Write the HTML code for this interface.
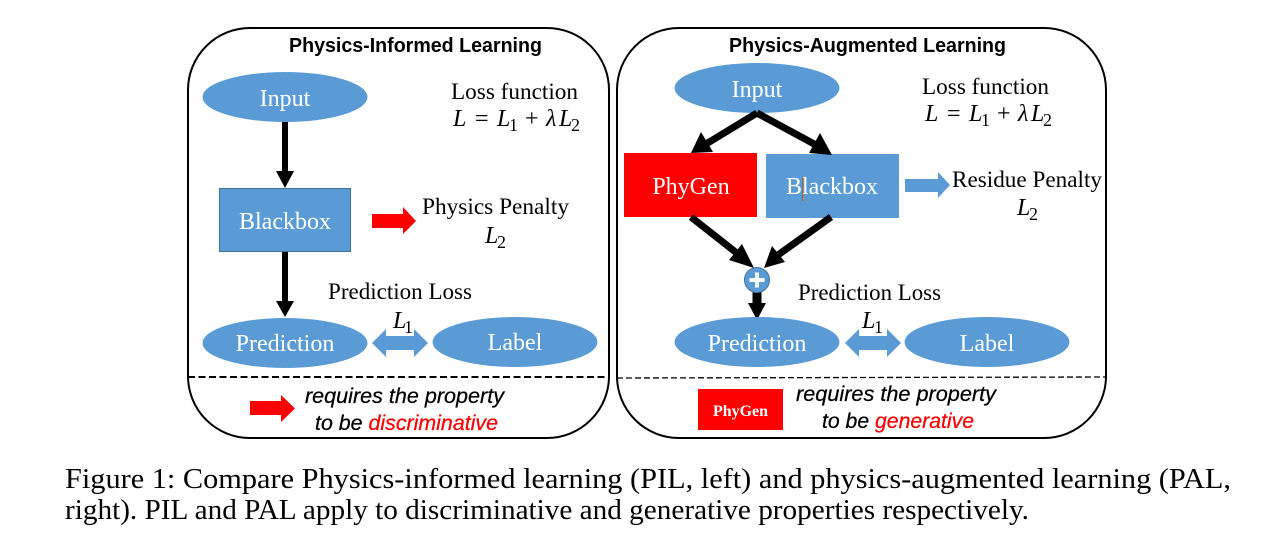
<!DOCTYPE html>
<html><head><meta charset="utf-8"><style>
html,body{margin:0;padding:0;background:#fff;width:1275px;height:545px;overflow:hidden}
svg{display:block}
.s{font-family:"Liberation Serif",serif}
.w{fill:#fff;font-size:24px;text-anchor:middle}
.b{fill:#000;font-size:23px}
.m{font-size:24px;font-style:italic;fill:#000}
.n{font-size:24px;fill:#000}
.sb{font-size:18px;fill:#000}
.t{font-family:"Liberation Sans",sans-serif;font-weight:bold;font-size:20px;fill:#000}
.i{font-family:"Liberation Sans",sans-serif;font-style:italic;font-size:21px;fill:#000;stroke:#000;stroke-width:.25}
.r{fill:#f00;stroke:#f00}
.c{font-size:28.5px;fill:#000}
</style></head><body>
<svg width="1275" height="545" viewBox="0 0 1275 545" xmlns="http://www.w3.org/2000/svg">
<rect width="1275" height="545" fill="#fff"/>
<rect x="188" y="28" width="421" height="410" rx="62" fill="#fff" stroke="#000" stroke-width="2"/>
<rect x="617" y="28" width="489" height="410" rx="62" fill="#fff" stroke="#000" stroke-width="2"/>
<line x1="188" y1="377" x2="609" y2="377" stroke="#000" stroke-width="2" stroke-dasharray="7 3.500"/>
<line x1="617" y1="378" x2="1106" y2="377" stroke="#000" stroke-width="1.300" stroke-dasharray="6 3"/>

<text class="t" x="289" y="52" textLength="253" lengthAdjust="spacingAndGlyphs">Physics-Informed Learning</text>
<text class="t" x="729" y="52" textLength="277" lengthAdjust="spacingAndGlyphs">Physics-Augmented Learning</text>

<!-- left -->
<ellipse cx="285" cy="97" rx="82.500" ry="25" fill="#5b9bd5"/>
<text class="s w" x="285" y="106">Input</text>
<polygon points="282,122 288,122 288,171 294,171 285,188 276,171 282,171" fill="#000"/>
<rect x="219.500" y="188.500" width="131" height="63" fill="#5b9bd5" stroke="#41719c"/>
<text class="s w" x="285" y="229">Blackbox</text>
<polygon points="282,252 288,252 288,301 294,301 285,317 276,301 282,301" fill="#000"/>
<polygon points="372,214 403,214 403,207 416,221 403,234 403,228 372,228" fill="#f00"/>
<text class="s b" x="422" y="214" textLength="147" lengthAdjust="spacingAndGlyphs">Physics Penalty</text>
<text class="s m" x="485" y="243">L</text><text class="s sb" x="497" y="248">2</text>
<text class="s b" x="451" y="99" textLength="127" lengthAdjust="spacingAndGlyphs">Loss function</text>
<text class="s m" x="453" y="126">L</text><text class="s n" x="475" y="126">=</text><text class="s m" x="497" y="126">L</text><text class="s sb" x="509" y="131">1</text><text class="s n" x="525" y="126">+</text><text class="s m" x="546" y="126">λ</text><text class="s m" x="559" y="126">L</text><text class="s sb" x="571" y="131">2</text>

<ellipse cx="285" cy="343" rx="82.500" ry="25" fill="#5b9bd5"/>
<text class="s w" x="285" y="351">Prediction</text>
<ellipse cx="515" cy="342" rx="82.500" ry="25" fill="#5b9bd5"/>
<text class="s w" x="515" y="350">Label</text>
<polygon points="372,343 386,329 386,336 414,336 414,329 428,343 414,357 414,350 386,350 386,357" fill="#5b9bd5"/>
<text class="s b" x="328" y="299" textLength="144" lengthAdjust="spacingAndGlyphs">Prediction Loss</text>
<text class="s m" x="393" y="328">L</text><text class="s sb" x="404" y="333">1</text>

<polygon points="250,401 281,401 281,395 295,408.500 281,422 281,415 250,415" fill="#f00"/>
<text class="i" x="305" y="403" textLength="199" lengthAdjust="spacingAndGlyphs">requires the property</text>
<text class="i" x="315" y="430" textLength="183" lengthAdjust="spacingAndGlyphs">to be <tspan class="r">discriminative</tspan></text>

<!-- right -->
<ellipse cx="757" cy="88" rx="82.500" ry="25" fill="#5b9bd5"/>
<text class="s w" x="757" y="97">Input</text>
<rect x="624" y="153" width="133" height="64" fill="#f00"/>
<text class="s w" x="691" y="194">PhyGen</text>
<rect x="766" y="154" width="133" height="64" fill="#5b9bd5"/>
<text class="s w" x="832" y="194">Blackbox</text>
<line x1="802.500" y1="177" x2="802.500" y2="201" stroke="#c55a11" stroke-width="1"/>

<g stroke="#000" stroke-width="7" fill="none">
<line x1="757" y1="113" x2="706" y2="144"/>
<line x1="757" y1="113" x2="816" y2="145"/>
<line x1="691" y1="217" x2="738" y2="254"/>
<line x1="831" y1="217" x2="778" y2="255"/>
</g>
<polygon points="691,153 701,132 713,152" fill="#000"/>
<polygon points="832,155 809,153 820,133" fill="#000"/>
<polygon points="754,268 729,260 742,244" fill="#000"/>
<polygon points="764,268 772,246 785,262" fill="#000"/>

<polygon points="752.500,292 761.500,292 761.500,303 766,303 757,320 748,303 752.500,303" fill="#000"/>
<circle cx="757" cy="280" r="12.500" fill="#5b9bd5" stroke="#41719c" stroke-width="1"/>
<rect x="749.500" y="278" width="15" height="4" fill="#fff"/>
<rect x="755" y="272.500" width="4" height="15" fill="#fff"/>

<polygon points="905,179 938,179 938,172 950,185 938,198 938,192 905,192" fill="#5b9bd5"/>
<text class="s b" x="952" y="187" textLength="150" lengthAdjust="spacingAndGlyphs">Residue Penalty</text>
<text class="s m" x="1017" y="215">L</text><text class="s sb" x="1029" y="220">2</text>
<text class="s b" x="922" y="94" textLength="127" lengthAdjust="spacingAndGlyphs">Loss function</text>
<text class="s m" x="925" y="121">L</text><text class="s n" x="947" y="121">=</text><text class="s m" x="969" y="121">L</text><text class="s sb" x="981" y="126">1</text><text class="s n" x="997" y="121">+</text><text class="s m" x="1018" y="121">λ</text><text class="s m" x="1031" y="121">L</text><text class="s sb" x="1043" y="126">2</text>

<ellipse cx="757" cy="342" rx="82.500" ry="25" fill="#5b9bd5"/>
<text class="s w" x="757" y="351">Prediction</text>
<ellipse cx="987" cy="342" rx="82.500" ry="25" fill="#5b9bd5"/>
<text class="s w" x="987" y="351">Label</text>
<polygon points="845,343 859,329 859,336 887,336 887,329 901,343 887,357 887,350 859,350 859,357" fill="#5b9bd5"/>
<text class="s b" x="798" y="300" textLength="143" lengthAdjust="spacingAndGlyphs">Prediction Loss</text>
<text class="s m" x="862" y="328">L</text><text class="s sb" x="874" y="333">1</text>

<rect x="698" y="389" width="85" height="41" fill="#f00"/>
<text class="s" x="740.500" y="416" font-size="16" font-weight="bold" fill="#fff" text-anchor="middle">PhyGen</text>
<text class="i" x="796" y="401" textLength="200" lengthAdjust="spacingAndGlyphs">requires the property</text>
<text class="i" x="822" y="428" textLength="152" lengthAdjust="spacingAndGlyphs">to be <tspan class="r">generative</tspan></text>

<!-- caption -->
<text class="s c" x="65" y="488" textLength="1166" lengthAdjust="spacingAndGlyphs">Figure 1: Compare Physics-informed learning (PIL, left) and physics-augmented learning (PAL,</text>
<text class="s c" x="65" y="519" textLength="964" lengthAdjust="spacingAndGlyphs">right). PIL and PAL apply to discriminative and generative properties respectively.</text>
</svg>
</body></html>
